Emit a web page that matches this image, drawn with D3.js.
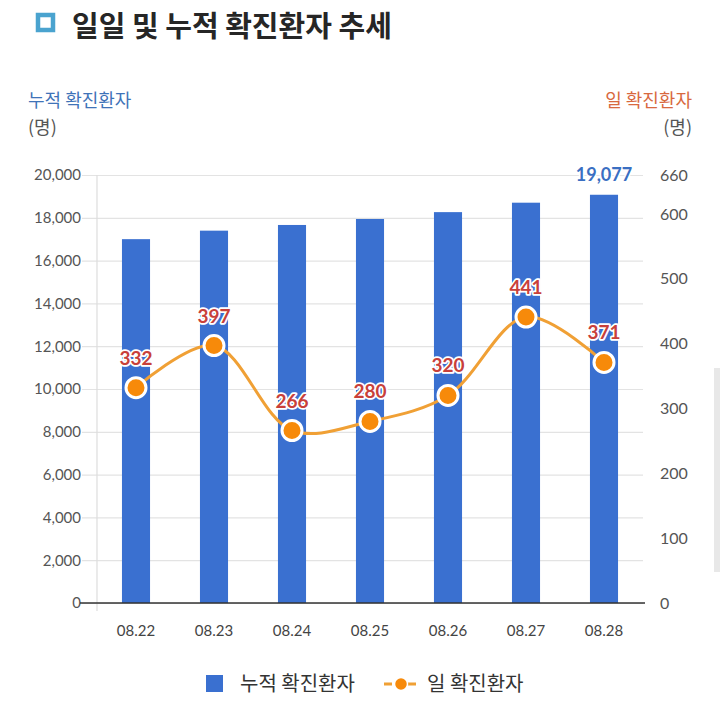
<!DOCTYPE html>
<html><head><meta charset="utf-8">
<script src="https://cdn.jsdelivr.net/npm/d3@7"></script>
<style>
html,body{margin:0;padding:0;background:#fff;}
svg{display:block;}
</style></head>
<body>
<svg id="chart" width="720" height="728"></svg>
<script>
const categories = ["08.22","08.23","08.24","08.25","08.26","08.27","08.28"];
const cumulative = [17002,17399,17665,17945,18265,18706,19077];
const daily = [332,397,266,280,320,441,371];
const leftTicks = [0,2000,4000,6000,8000,10000,12000,14000,16000,18000,20000];
const rightTicks = [0,100,200,300,400,500,600,660];

const svg = d3.select("#chart");
const KR = "'Noto Sans CJK KR','Noto Sans',sans-serif";
const NUM = "Lato,'Noto Sans',sans-serif";
const m = {left:97, right:643, top:175, bottom:603};

const x = d3.scaleBand().domain(categories).range([m.left, m.right]).paddingInner(0.64).paddingOuter(0.32);
const yL = d3.scaleLinear().domain([0,20000]).range([m.bottom, m.top]);
const yR = d3.scaleLinear().domain([0,660]).range([m.bottom, m.top]);

// title
svg.append("rect").attr("x",38).attr("y",15).attr("width",15).attr("height",15)
  .attr("fill","#fff").attr("stroke","#4aa3cf").attr("stroke-width",4.5);
svg.append("text").attr("x",72).attr("y",37).attr("font-family",KR).attr("font-weight",700)
  .attr("font-size",29).attr("fill","#262626").text("일일 및 누적 확진환자 추세");

// axis titles
svg.append("text").attr("x",28).attr("y",107).attr("font-family",KR).attr("font-size",18)
  .attr("fill","#3f73b8").text("누적 확진환자");
svg.append("text").attr("x",28).attr("y",134).attr("font-family",KR).attr("font-size",18)
  .attr("fill","#555").text("(명)");
svg.append("text").attr("x",692).attr("y",107).attr("text-anchor","end").attr("font-family",KR).attr("font-size",18)
  .attr("fill","#d8693f").text("일 확진환자");
svg.append("text").attr("x",692).attr("y",134).attr("text-anchor","end").attr("font-family",KR).attr("font-size",18)
  .attr("fill","#555").text("(명)");

// gridlines + left axis
const gl = svg.append("g").attr("transform",`translate(${m.left},0)`)
  .call(d3.axisLeft(yL).tickValues(leftTicks).tickSize(-(m.right-m.left)).tickPadding(4)
    .tickFormat(d3.format(",")));
gl.select(".domain").remove();
gl.selectAll(".tick line").attr("stroke","#e3e3e3").attr("stroke-width",1.2)
  .attr("x1",-15);
gl.selectAll(".tick text").attr("font-family",NUM).attr("font-size",15).attr("fill","#555")
  .attr("x",-16);
// left vertical axis line
svg.append("line").attr("x1",m.left).attr("x2",m.left).attr("y1",m.top).attr("y2",m.bottom+8)
  .attr("stroke","#ddd").attr("stroke-width",1.2);

// right axis
const gr = svg.append("g").attr("transform",`translate(${m.right},0)`)
  .call(d3.axisRight(yR).tickValues(rightTicks).tickSize(0).tickPadding(17));
gr.select(".domain").remove();
gr.selectAll(".tick text").attr("font-family",NUM).attr("font-size",16).attr("fill","#555");

// bars
svg.append("g").selectAll("rect").data(categories).join("rect")
  .attr("x",d=>x(d)).attr("width",x.bandwidth())
  .attr("y",(d,i)=>yL(cumulative[i])).attr("height",(d,i)=>yL(0)-yL(cumulative[i]))
  .attr("fill","#3a70d0");

// bottom axis
const gx = svg.append("g").attr("transform",`translate(0,${m.bottom})`)
  .call(d3.axisBottom(x).tickSize(0).tickPadding(22));
gx.select(".domain").attr("stroke","#333").attr("stroke-width",1.5).attr("d",`M${m.left-17},0H${m.right+2}`);
gx.selectAll(".tick text").attr("font-family",NUM).attr("font-size",15).attr("fill","#444");

// last bar label
const li = cumulative.length-1;
svg.append("text").attr("x",x(categories[li])+x.bandwidth()/2).attr("y",yL(cumulative[li])-14)
  .attr("text-anchor","middle").attr("font-family",NUM).attr("font-weight",700).attr("font-size",18)
  .attr("fill","#3a6fc2").attr("stroke","#fff").attr("stroke-width",3).attr("paint-order","stroke")
  .text(d3.format(",")(cumulative[li]));

// line
const cx = d => x(d)+x.bandwidth()/2;
const line = d3.line().x((d,i)=>cx(categories[i])).y(d=>yR(d)).curve(d3.curveCatmullRom.alpha(0.5));
svg.append("path").datum(daily).attr("d",line).attr("fill","none")
  .attr("stroke","#f0a035").attr("stroke-width",3);
svg.append("g").selectAll("circle").data(daily).join("circle")
  .attr("cx",(d,i)=>cx(categories[i])).attr("cy",d=>yR(d)).attr("r",10)
  .attr("fill","#f78a0a").attr("stroke","#fff").attr("stroke-width",3);
svg.append("g").selectAll("text").data(daily).join("text")
  .attr("x",(d,i)=>cx(categories[i])).attr("y",d=>yR(d)-23)
  .attr("text-anchor","middle").attr("font-family",NUM).attr("font-weight",700).attr("font-size",19)
  .attr("fill","#c8403a").attr("stroke","#fff").attr("stroke-width",3.5).attr("paint-order","stroke")
  .attr("stroke-linejoin","round")
  .text(d=>d);

// legend
svg.append("rect").attr("x",206).attr("y",675).attr("width",17).attr("height",17).attr("fill","#3a70d0");
svg.append("text").attr("x",240).attr("y",691).attr("font-family",KR).attr("font-size",20).attr("fill","#333").text("누적 확진환자");
svg.append("line").attr("x1",384).attr("x2",418).attr("y1",684).attr("y2",684)
  .attr("stroke","#f0a035").attr("stroke-width",3).attr("stroke-dasharray","8,4");
svg.append("circle").attr("cx",401).attr("cy",684).attr("r",6.5).attr("fill","#f78a0a").attr("stroke","#fff").attr("stroke-width",1.5);
svg.append("text").attr("x",427).attr("y",691).attr("font-family",KR).attr("font-size",20).attr("fill","#333").text("일 확진환자");

// scrollbar artifact
svg.append("rect").attr("x",714).attr("y",368).attr("width",6).attr("height",204).attr("fill","#e8e8e8");
</script>
</body></html>
